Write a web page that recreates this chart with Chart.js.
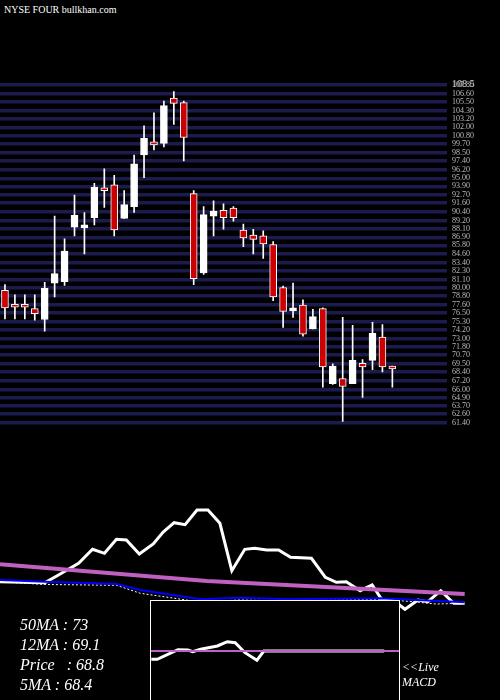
<!DOCTYPE html>
<html><head><meta charset="utf-8">
<script src="https://cdn.jsdelivr.net/npm/chart.js@4"></script>
<style>
body{margin:0;background:#000;width:500px;height:700px;overflow:hidden;position:relative;font-family:"Liberation Serif",serif}
canvas{position:absolute}
.t{position:absolute;color:#fff;font-style:italic;font-size:16px;white-space:pre;line-height:16px}
</style></head><body>
<div class="t" style="left:4px;top:2px;font-size:10px;font-style:normal">NYSE FOUR bullkhan.com</div>
<div class="t" style="left:452px;top:76px;font-size:10px;font-style:normal;color:#ccc">108.5</div>
<div style="position:absolute;left:0;top:440px"><canvas id="low" width="500" height="260"></canvas></div>
<div style="position:absolute;left:0;top:0"><canvas id="main" width="500" height="440"></canvas></div>
<div style="position:absolute;left:150px;top:600px;width:248px;height:100px;border:1px solid #fff;border-bottom:none;background:#000"><canvas id="macd" width="248" height="100"></canvas></div>
<div class="t" style="left:20px;top:617px">50MA : 73</div>
<div class="t" style="left:20px;top:637px">12MA : 69.1</div>
<div class="t" style="left:20px;top:657px">Price   : 68.8</div>
<div class="t" style="left:20px;top:677px">5MA : 68.4</div>
<div class="t" style="left:402px;top:659px;font-size:12px">&lt;&lt;Live</div>
<div class="t" style="left:402px;top:674px;font-size:12px">MACD</div>
<script>
const opens  = [79.6,77.4,77.4,77.1,75.6,80.6,80.8,88.3,88.2,89.6,93.4,94.1,89.5,91.1,98.2,99.7,99.8,106.0,105.4,92.9,82.0,89.8,90.6,90.9,87.9,87.2,87.1,85.9,80.0,76.8,77.6,74.3,77.1,66.8,67.5,66.8,69.3,70.0,73.2,68.9];
const highs  = [80.4,79.0,79.0,79.0,80.7,89.8,86.7,92.7,90.3,94.3,96.3,95.4,93.3,98.2,102.2,104.0,105.6,106.9,105.6,93.3,91.1,91.9,91.5,91.1,88.7,88.0,87.8,86.3,80.2,80.6,78.3,77.0,77.2,69.5,75.9,74.8,70.1,75.2,74.9,69.2];
const lows   = [75.7,75.7,75.7,75.5,74.0,78.7,80.3,87.1,84.6,88.6,91.0,87.1,89.5,90.3,95.1,98.9,99.3,102.4,97.4,80.4,81.8,87.1,88.0,89.1,85.6,84.6,84.0,78.2,74.5,75.9,73.3,74.3,66.3,66.7,61.6,66.8,64.9,68.7,68.4,66.3];
const closes = [77.2,77.3,77.3,76.4,79.9,81.9,85.0,89.9,88.3,93.8,93.3,87.9,91.4,97.0,100.5,99.6,105.0,105.3,100.6,81.2,90.0,90.5,89.6,89.6,86.8,86.6,86.0,78.7,76.7,76.9,73.6,76.0,69.1,69.2,66.4,70.0,69.1,73.7,69.1,68.8];
const gridTicks = [61.4,62.6,63.7,64.9,66.0,67.2,68.4,69.5,70.7,71.8,73.0,74.2,75.3,76.5,77.6,78.8,80.0,81.1,82.3,83.4,84.6,85.8,86.9,88.1,89.2,90.4,91.6,92.7,93.9,95.0,96.2,97.4,98.5,99.7,100.8,102.0,103.2,104.3,105.5,106.6,107.8];
const oscX = [-0.3,4.2,5.4,7.6,9.0,10.2,11.4,12.4,13.7,15.1,16.1,17.2,18.3,19.5,20.6,21.8,23.0,24.3,25.3,26.5,27.7,28.9,31.0,32.4,33.5,34.5,35.9,37.1,38.1,39.2,40.4,41.7,42.7,44.0,45.3,46.4];
const oscY = [118.3,117.3,124,136.7,150.7,146.7,160.7,160,146,156,168,177.3,175.3,190,190,176.7,129.3,150.7,151.7,150,150,142.7,141.7,122.7,117.7,118.3,109.3,115,100,100,90.7,100,98.3,109.3,96.7,96.7];
const slowX = [-0.3,20.5,46.4];
const slowY = [135.7,119,106];
const fastX = [-0.3,4.2,11.4,13.8,19.8,23.8,28.5,37.9,46.4];
const fastY = [120,118.3,116,110,100.7,102.3,100.7,101.7,97.7];
const dotX = [-0.3,4.2,11.4,13.8,19.8,23.8,28.5,37.9,40.4,43.5,46.4];
const dotY = [118.3,115.5,114.7,106.7,98,100,99,100.5,99,96,96.7];
const macdX = [14.8,15.4,17.5,18.5,19.0,19.8,21.5,22.5,23.3,24.3,25.5,26.2,38.4];
const macdY = [-8.3,-8.3,1.3,1,-0.7,1.7,5,9.3,8.3,-1.7,-9.3,0,0];
const signalX = [14.77,39.9];
const signalY = [0,0];

const slots = 45;
const labels = Array.from({length:slots},(_,i)=>i);
const bodies = opens.map((o,i)=>[Math.min(o,closes[i]),Math.max(o,closes[i])+ (Math.abs(o-closes[i])<0.3?0.3:0)]);
const wicks = lows.map((l,i)=>[l,highs[i]]);
const bodyCol = opens.map((o,i)=>closes[i]<o?'#cc0000':'#ffffff');

new Chart(document.getElementById('main'),{
 type:'bar',
 data:{labels,datasets:[
  {data:wicks,backgroundColor:'#fff',barThickness:1,grouped:false,order:2},
  {data:bodies,backgroundColor:bodyCol,borderColor:'#fff',borderWidth:1,borderSkipped:false,barThickness:7,grouped:false,order:1}
 ]},
 options:{responsive:false,animation:false,layout:{padding:{top:80,left:-2}},
  plugins:{legend:{display:false},tooltip:{enabled:false}},
  scales:{x:{display:false},
   y:{position:'right',min:60.4,max:108.5,afterFit:s=>{s.width=53;},
    afterBuildTicks:s=>{s.ticks=gridTicks.map(v=>({value:v}));},
    grid:{color:'#1b1b4e',lineWidth:3.5,drawTicks:false},border:{display:false},
    ticks:{autoSkip:false,color:'#bbb',font:{size:8,family:'Liberation Serif'},padding:5,callback:v=>v.toFixed(2)}}}}
});

const pt=(xs,ys)=>xs.map((x,i)=>({x,y:ys[i]}));
new Chart(document.getElementById('low'),{
 type:'line',
 data:{datasets:[
  {data:pt(slowX,slowY),borderColor:'#c060c0',borderWidth:4,pointRadius:0,tension:0},
  {data:pt(fastX,fastY),borderColor:'#0000ff',borderWidth:2,pointRadius:0,tension:0},
  {data:pt(dotX,dotY),borderColor:'#fff',borderWidth:1,borderDash:[2,2],pointRadius:0,tension:0},
  {data:pt(oscX,oscY),borderColor:'#fff',borderWidth:3,pointRadius:0,tension:0}
 ]},
 options:{responsive:false,animation:false,layout:{padding:0},
  plugins:{legend:{display:false},tooltip:{enabled:false}},
  scales:{x:{type:'linear',display:false,min:-0.3,max:49.95},y:{display:false,min:0,max:260}}}
});

new Chart(document.getElementById('macd'),{
 type:'line',
 data:{datasets:[
  {data:pt(signalX,signalY),borderColor:'#c060c0',borderWidth:2,pointRadius:0},
  {data:pt(macdX,macdY),borderColor:'#fff',borderWidth:3,pointRadius:0,tension:0}
 ]},
 options:{responsive:false,animation:false,layout:{padding:0},
  plugins:{legend:{display:false},tooltip:{enabled:false}},
  scales:{x:{type:'linear',display:false,min:14.77,max:39.9},y:{display:false,min:-50,max:50}}}
});
</script></body></html>
